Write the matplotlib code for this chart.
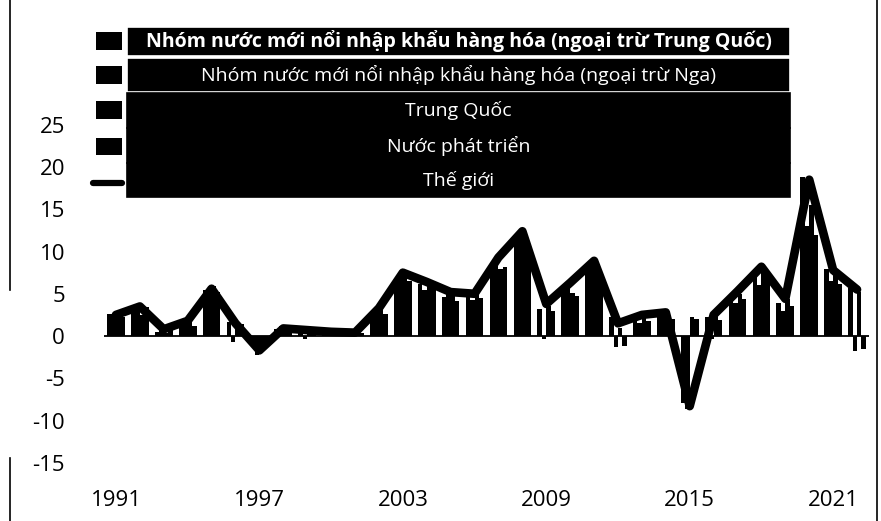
import matplotlib
matplotlib.use("Agg")
import matplotlib.pyplot as plt
from matplotlib.patches import Rectangle
from matplotlib.lines import Line2D
import numpy as np

plt.rcParams['font.family'] = ['Open Sans', 'DejaVu Sans']

years = list(range(1991, 2023))

# Growth by country group (%)
em_importers = [2.6, 3.0, 0.5, 1.5, 5.5, 1.6, -0.5, 0.8, 0.9, 0.7, 0.5, 3.0, 6.8, 6.1, 4.6, 4.8,
                8.6, 11.8, 3.2, 5.4, 8.0, 2.3, 2.0, 2.6, -7.9, 2.2, 4.8, 7.2, 3.9, 18.8, 7.9, 5.7]
em_exporters = [2.4, 3.6, 1.0, 2.0, 4.8, -0.7, -2.3, 1.2, -0.3, 0.4, 0.4, 2.8, 7.6, 5.5, 5.1, 4.3,
                9.0, 12.6, -0.3, 6.0, 9.0, -1.3, 1.5, 2.2, -8.6, -0.3, 3.9, 6.0, 3.0, 13.0, 6.5, -1.8]
china = [2.8, 2.5, 0.3, 1.8, 5.9, 1.2, -1.8, 0.6, 0.7, 0.6, 0.6, 3.3, 7.2, 6.4, 4.8, 5.0,
         7.9, 11.0, 3.5, 5.1, 8.5, 1.0, 2.4, 2.8, 2.3, 2.4, 5.0, 8.2, 4.4, 15.5, 7.6, 5.2]
developed = [2.2, 3.4, 0.8, 1.2, 5.2, 1.4, -0.7, 1.1, 0.9, 0.5, 0.3, 2.6, 6.5, 5.8, 4.2, 4.5,
             8.2, 9.5, 3.0, 4.7, 7.2, -1.2, 1.8, 2.0, 2.0, 1.9, 4.4, 6.8, 3.6, 12.0, 6.2, -1.5]
world = [2.5, 3.5, 0.8, 1.8, 5.6, 1.5, -1.7, 0.9, 0.7, 0.5, 0.4, 3.3, 7.5, 6.4, 5.2, 5.0,
         9.3, 12.4, 3.8, 6.3, 8.9, 1.5, 2.5, 2.8, -8.3, 2.5, 5.3, 8.2, 4.4, 18.5, 7.8, 5.5]

bar_labels = [
    "Nhóm nước mới nổi nhập khẩu hàng hóa (ngoại trừ Trung Quốc)",
    "Nhóm nước mới nổi nhập khẩu hàng hóa (ngoại trừ Nga)",
    "Trung Quốc",
    "Nước phát triển",
]
line_label = "Thế giới"

y_ticks = [-15, -10, -5, 0, 5, 10, 15, 20, 25]
x_label_years = [1991, 1997, 2003, 2009, 2015, 2021]

W, H = 881, 521
fig = plt.figure(figsize=(W / 100, H / 100), dpi=100)
ax = fig.add_axes([104 / W, 41 / H, 765 / W, 460 / H])

x = np.arange(len(years))
series = [em_importers, em_exporters, china, developed]
group_w = 0.74
bw = group_w / len(series)
for i, vals in enumerate(series):
    off = -group_w / 2 + bw * (i + 0.5)
    ax.bar(x + off, vals, width=bw, color='black', linewidth=0, zorder=2)

ax.axhline(0, color='black', lw=1.3, zorder=3)
ax.plot(x, world, color='black', lw=6.2, solid_joinstyle='round',
        solid_capstyle='round', zorder=4)

ax.set_xlim(-0.5, len(years) - 0.5)
ax.set_ylim(-17.04, 37.4)
ax.set_yticks(y_ticks)
ax.set_yticklabels([str(v) for v in y_ticks])
ax.set_xticks([years.index(y) for y in x_label_years])
ax.set_xticklabels([str(y) for y in x_label_years])
ax.tick_params(axis='both', length=0, labelsize=16, colors='black')
ax.tick_params(axis='y', pad=28)
ax.tick_params(axis='x', pad=7)
for s in ax.spines.values():
    s.set_visible(False)


def fx(px):
    return px / W


def fy(py):
    return 1 - py / H


# Legend: black handles on the left, label text centred in black bands
row_y = [41, 75, 110, 146, 181]
box_left, box_right = 127, 790
band_edges = [(27, 56), (58, 92), (93, 128), (128, 163), (163, 197)]
for i, (top, bot) in enumerate(band_edges):
    edge = 'white' if i < 2 else 'black'
    fig.patches.append(Rectangle((fx(box_left), fy(bot)), fx(box_right - box_left),
                                 (bot - top) / H, transform=fig.transFigure,
                                 facecolor='black', edgecolor=edge, lw=1.2, zorder=5))
labels = bar_labels + [line_label]
for i, (lab, ry) in enumerate(zip(labels, row_y)):
    fig.text(fx((box_left + box_right) / 2), fy(ry), lab, color='white', fontsize=14,
             ha='center', va='center', zorder=7,
             fontweight='bold' if i == 0 else 'normal')
    if i < len(bar_labels):
        fig.patches.append(Rectangle((fx(96), fy(ry + 8.5)), fx(26), 17 / H,
                                     transform=fig.transFigure, facecolor='black',
                                     edgecolor='none', zorder=6))
    else:
        fig.lines.append(Line2D([fx(93), fx(122)], [fy(ry + 2), fy(ry + 2)],
                                transform=fig.transFigure, color='black', lw=4.5,
                                solid_capstyle='round', zorder=6))

# Page border fragments
fig.lines.append(Line2D([fx(10), fx(10)], [fy(0), fy(290)], transform=fig.transFigure,
                        color='black', lw=1.2))
fig.lines.append(Line2D([fx(10), fx(10)], [fy(458), fy(521)], transform=fig.transFigure,
                        color='black', lw=1.2))
fig.lines.append(Line2D([fx(877), fx(877)], [fy(0), fy(521)], transform=fig.transFigure,
                        color='black', lw=1.2))

fig.savefig("out.png", dpi=100, facecolor='white')
